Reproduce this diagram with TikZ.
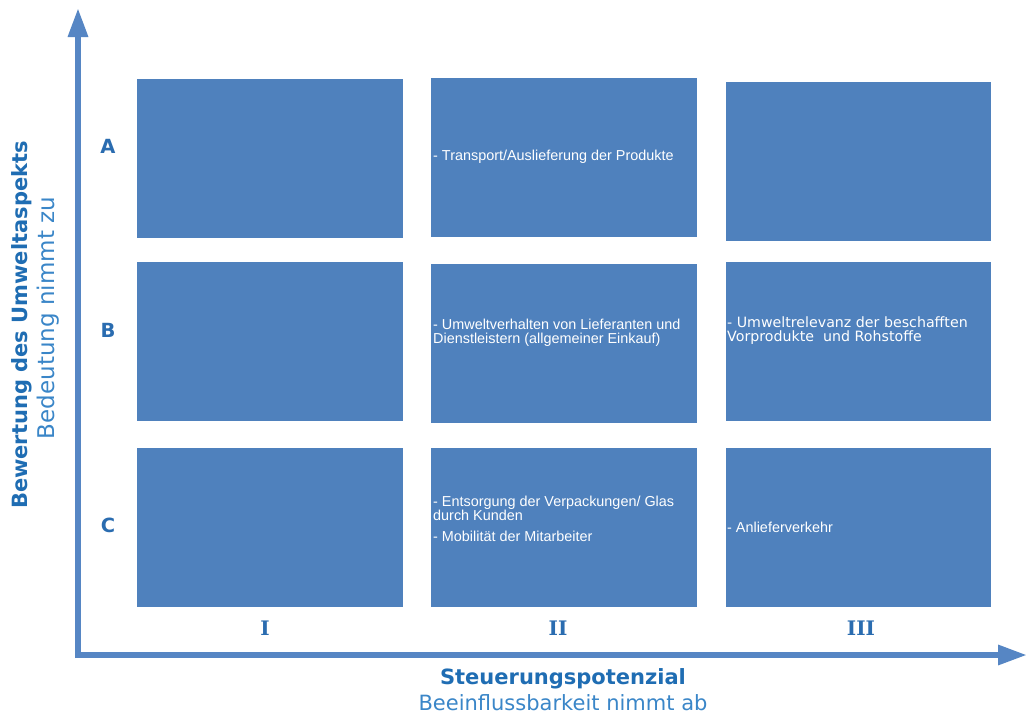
\documentclass[tikz,border=0pt]{standalone}
\usepackage{fontspec}
\setmainfont{Liberation Sans}
\newfontfamily\verd{DejaVu Sans}
\newfontfamily\numfont{DejaVu Serif}
\usetikzlibrary{arrows.meta}

\definecolor{cellblue}{HTML}{4F81BD}
\definecolor{axisblue}{HTML}{5686C4}
\definecolor{titleblue}{HTML}{1F6DB3}
\definecolor{subblue}{HTML}{3A86C8}
\definecolor{labelblue}{HTML}{2A6CB0}

\newcommand\firstln{\rule{0pt}{11pt}}

\tikzset{
  cell/.style={fill=cellblue, draw=none, minimum width=266pt, minimum height=159pt, inner sep=0pt},
  axis/.style={draw=axisblue, line width=6pt, -{Triangle[width=19pt,length=29pt]}},
  celltext/.style={text=white, inner sep=0pt, align=left, font=\fontsize{14.4}{14}\selectfont},
  rowlabel/.style={text=labelblue, inner sep=0pt, font=\verd\bfseries\fontsize{19.5}{19.5}\selectfont},
  collabel/.style={text=labelblue, inner sep=0pt, font=\numfont\bfseries\fontsize{20}{20}\selectfont},
  axtitle/.style={text=titleblue, inner sep=0pt, font=\verd\bfseries\fontsize{21}{21}\selectfont},
  axsub/.style={text=subblue, inner sep=0pt, font=\verd\fontsize{21}{21}\selectfont},
}

\begin{document}
\begin{tikzpicture}[x=1pt,y=-1pt]
\useasboundingbox[fill=white] (0,0) rectangle (1028,715);

% matrix cells
\node[cell] (a1) at (270,158.5) {};
\node[cell] (a2) at (564,157.5) {};
\node[cell, minimum width=265pt] (a3) at (858.5,161.5) {};
\node[cell] (b1) at (270,341.5) {};
\node[cell] (b2) at (564,343.5) {};
\node[cell, minimum width=265pt] (b3) at (858.5,341.5) {};
\node[cell] (c1) at (270,527.5) {};
\node[cell] (c2) at (564,527.5) {};
\node[cell, minimum width=265pt] (c3) at (858.5,527.5) {};

% cell contents
\node[celltext, anchor=base west] (ta2) at (433,160) {- Transport/Auslieferung der Produkte};
\node[celltext, anchor=north west] (tb2) at (433,318) {\firstln- Umweltverhalten von Lieferanten und\\Dienstleistern (allgemeiner Einkauf)};
\node[celltext, anchor=north west, font=\verd\fontsize{14.2}{14}\selectfont] (tb3) at (727,316) {\firstln- Umweltrelevanz der beschafften\\Vorprodukte\ \ und Rohstoffe};
\node[celltext, anchor=north west, font=\fontsize{14.4}{12}\selectfont] (tc2) at (433,495) {\firstln- Entsorgung der Verpackungen/ Glas\\durch Kunden\\[9pt]- Mobilität der Mitarbeiter};
\node[celltext, anchor=base west] (tc3) at (727,532) {- Anlieferverkehr};

% row and column labels
\node[rowlabel] (la) at (108,146) {A};
\node[rowlabel] (lb) at (108,330) {B};
\node[rowlabel] (lc) at (108,525) {C};
\node[collabel] (l1) at (265,628) {I};
\node[collabel] (l2) at (558,628) {II};
\node[collabel] (l3) at (861,628) {III};

% axes
\coordinate (yfoot) at (78,658);
\coordinate (ytip) at (78,8);
\coordinate (xfoot) at (75,655);
\coordinate (xtip) at (1027,655);
\draw[axis] (yfoot) -- (ytip);
\draw[axis] (xfoot) -- (xtip);

% axis titles
\node[axtitle] (xt) at (563,679) {Steuerungspotenzial};
\node[axsub] (xs) at (563,703) {Beeinflussbarkeit nimmt ab};
\node[axtitle, rotate=90] (yt) at (22,325) {Bewertung des Umweltaspekts};
\node[axsub, rotate=90, font=\verd\fontsize{23}{23}\selectfont] (ys) at (48,318) {Bedeutung nimmt zu};
\end{tikzpicture}
\end{document}
